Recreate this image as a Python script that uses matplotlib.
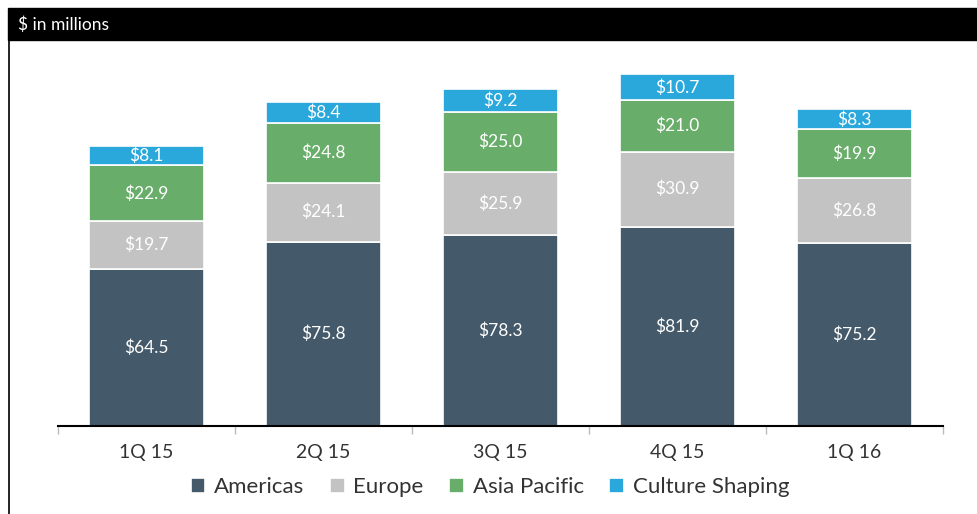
import matplotlib
matplotlib.use('Agg')
import matplotlib.pyplot as plt
import numpy as np
from matplotlib.patches import Rectangle
from matplotlib.lines import Line2D

plt.rcParams['font.family'] = ['Lato', 'DejaVu Sans']

quarters = ["1Q 15", "2Q 15", "3Q 15", "4Q 15", "1Q 16"]
americas = [64.5, 75.8, 78.3, 81.9, 75.2]
europe = [19.7, 24.1, 25.9, 30.9, 26.8]
asia_pacific = [22.9, 24.8, 25.0, 21.0, 19.9]
culture_shaping = [8.1, 8.4, 9.2, 10.7, 8.3]

series = [
    ("Americas", americas, "#44596a"),
    ("Europe", europe, "#c3c3c3"),
    ("Asia Pacific", asia_pacific, "#69ad6a"),
    ("Culture Shaping", culture_shaping, "#2aa8dc"),
]

W, H = 978, 514
fig = plt.figure(figsize=(W / 100, H / 100), dpi=100)

# header bar and left frame line
fig.patches.append(Rectangle((8 / W, 1 - 40 / H), 1 - 8 / W, 32 / H,
                             transform=fig.transFigure, color='black', zorder=0))
fig.lines.append(Line2D([8.5 / W, 8.5 / W], [0, 1 - 40 / H],
                        transform=fig.transFigure, color='black', lw=1.2))
fig.text(18 / W, 1 - 25 / H, "$ in millions", color='white', fontsize=12.5,
         va='center', ha='left')

# axes: x 58..943, y 61..426
ax = fig.add_axes([58 / W, 1 - 426 / H, (943 - 58) / W, (426 - 61) / H])
x = np.arange(len(quarters))
bottom = np.zeros(len(quarters))
for name, vals, color in series:
    ax.bar(x, vals, width=0.655, bottom=bottom, color=color,
           edgecolor='white', linewidth=1.2, label=name)
    for xi, b, v in zip(x, bottom, vals):
        ax.text(xi, b + v / 2, f"${v:.1f}", color='white', ha='center',
                va='center', fontsize=12.5)
    bottom += np.array(vals)

ax.set_xlim(-0.5, len(quarters) - 0.5)
ax.set_ylim(0, 150)
ax.set_yticks([])
for s in ['top', 'right', 'left']:
    ax.spines[s].set_visible(False)
ax.spines['bottom'].set_linewidth(1.5)
ax.set_xticks(x)
ax.set_xticklabels(quarters, fontsize=14, color='#333333')
ax.tick_params(axis='x', which='major', length=0, pad=13)
ax.set_xticks(np.arange(-0.5, len(quarters)), minor=True)
ax.tick_params(axis='x', which='minor', length=6, color='#bbbbbb', width=1)

handles, labels = ax.get_legend_handles_labels()
fig.legend(handles, labels, loc='center', bbox_to_anchor=(490 / W, 1 - 487 / H),
           ncol=4, frameon=False, fontsize=16, handlelength=0.65,
           handleheight=0.65, handletextpad=0.4, columnspacing=1.15,
           labelcolor='#333333')

fig.savefig('out.png', dpi=100)
